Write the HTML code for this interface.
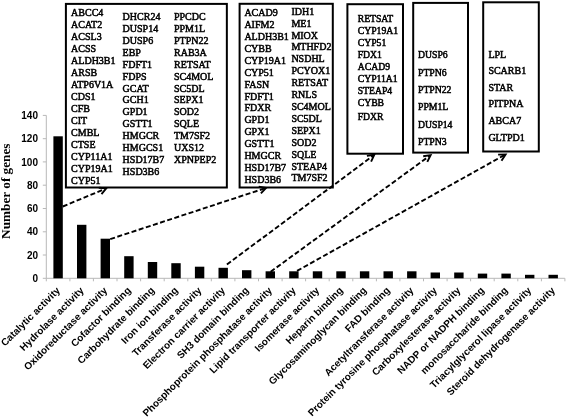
<!DOCTYPE html><html><head><meta charset="utf-8"><style>html,body{margin:0;padding:0;background:#fff;width:567px;height:417px;overflow:hidden}svg{display:block;filter:grayscale(1)}</style></head><body>
<svg width="567" height="417" viewBox="0 0 567 417">
<g stroke="#b8b8b8" stroke-width="1" fill="none">
<path d="M46.3 115.4V278.3H564.9"/>
<path d="M42.8 278.3H46.3"/>
<path d="M42.8 255.0H46.3"/>
<path d="M42.8 231.8H46.3"/>
<path d="M42.8 208.5H46.3"/>
<path d="M42.8 185.2H46.3"/>
<path d="M42.8 161.9H46.3"/>
<path d="M42.8 138.7H46.3"/>
<path d="M42.8 115.4H46.3"/>
<path d="M46.3 278.3V281.3"/>
<path d="M69.9 278.3V281.3"/>
<path d="M93.4 278.3V281.3"/>
<path d="M117.0 278.3V281.3"/>
<path d="M140.6 278.3V281.3"/>
<path d="M164.2 278.3V281.3"/>
<path d="M187.8 278.3V281.3"/>
<path d="M211.3 278.3V281.3"/>
<path d="M234.9 278.3V281.3"/>
<path d="M258.5 278.3V281.3"/>
<path d="M282.1 278.3V281.3"/>
<path d="M305.6 278.3V281.3"/>
<path d="M329.2 278.3V281.3"/>
<path d="M352.8 278.3V281.3"/>
<path d="M376.4 278.3V281.3"/>
<path d="M399.9 278.3V281.3"/>
<path d="M423.5 278.3V281.3"/>
<path d="M447.1 278.3V281.3"/>
<path d="M470.6 278.3V281.3"/>
<path d="M494.2 278.3V281.3"/>
<path d="M517.8 278.3V281.3"/>
<path d="M541.4 278.3V281.3"/>
<path d="M564.9 278.3V281.3"/>
</g>
<g font-family="Liberation Sans, sans-serif" font-weight="bold" font-size="10" fill="#000" text-anchor="end">
<text x="38.0" y="281.9">0</text>
<text x="38.0" y="258.6">20</text>
<text x="38.0" y="235.4">40</text>
<text x="38.0" y="212.1">60</text>
<text x="38.0" y="188.8">80</text>
<text x="38.0" y="165.5">100</text>
<text x="38.0" y="142.3">120</text>
<text x="38.0" y="119.0">140</text>
</g>
<g fill="#000">
<rect x="53.4" y="136.3" width="9.4" height="142.0"/>
<rect x="77.0" y="224.8" width="9.4" height="53.5"/>
<rect x="100.6" y="238.7" width="9.4" height="39.6"/>
<rect x="124.2" y="256.2" width="9.4" height="22.1"/>
<rect x="147.8" y="262.0" width="9.4" height="16.3"/>
<rect x="171.3" y="263.2" width="9.4" height="15.1"/>
<rect x="194.9" y="266.7" width="9.4" height="11.6"/>
<rect x="218.5" y="267.8" width="9.4" height="10.5"/>
<rect x="242.0" y="270.2" width="9.4" height="8.1"/>
<rect x="265.6" y="271.3" width="9.4" height="7.0"/>
<rect x="289.2" y="271.3" width="9.4" height="7.0"/>
<rect x="312.8" y="271.3" width="9.4" height="7.0"/>
<rect x="336.3" y="271.3" width="9.4" height="7.0"/>
<rect x="359.9" y="271.3" width="9.4" height="7.0"/>
<rect x="383.5" y="271.3" width="9.4" height="7.0"/>
<rect x="407.1" y="271.3" width="9.4" height="7.0"/>
<rect x="430.6" y="272.5" width="9.4" height="5.8"/>
<rect x="454.2" y="272.5" width="9.4" height="5.8"/>
<rect x="477.8" y="273.6" width="9.4" height="4.7"/>
<rect x="501.4" y="273.6" width="9.4" height="4.7"/>
<rect x="525.0" y="274.8" width="9.4" height="3.5"/>
<rect x="548.5" y="274.8" width="9.4" height="3.5"/>
</g>
<g font-family="Liberation Sans, sans-serif" font-weight="bold" font-size="10" fill="#000" text-anchor="end">
<text transform="translate(60.8 291.0) rotate(-45)">Catalytic activity</text>
<text transform="translate(84.4 291.0) rotate(-45)">Hydrolase activity</text>
<text transform="translate(107.9 291.0) rotate(-45)">Oxidoreductase activity</text>
<text transform="translate(131.5 291.0) rotate(-45)">Cofactor binding</text>
<text transform="translate(155.0 291.0) rotate(-45)">Carbohydrate binding</text>
<text transform="translate(178.6 291.0) rotate(-45)">Iron ion binding</text>
<text transform="translate(202.2 291.0) rotate(-45)">Transferase activity</text>
<text transform="translate(225.7 291.0) rotate(-45)">Electron carrier activity</text>
<text transform="translate(249.3 291.0) rotate(-45)">SH3 domain binding</text>
<text transform="translate(272.8 291.0) rotate(-45)">Phosphoprotein phosphatase activity</text>
<text transform="translate(296.4 291.0) rotate(-45)">Lipid transporter activity</text>
<text transform="translate(320.0 291.0) rotate(-45)">Isomerase activity</text>
<text transform="translate(343.5 291.0) rotate(-45)">Heparin binding</text>
<text transform="translate(367.1 291.0) rotate(-45)">Glycosaminoglycan binding</text>
<text transform="translate(390.6 291.0) rotate(-45)">FAD binding</text>
<text transform="translate(414.2 291.0) rotate(-45)">Acetyltransferase activity</text>
<text transform="translate(437.8 291.0) rotate(-45)">Protein tyrosine phosphatase activity</text>
<text transform="translate(461.3 291.0) rotate(-45)">Carboxylesterase activity</text>
<text transform="translate(484.9 291.0) rotate(-45)">NADP or NADPH binding</text>
<text transform="translate(508.4 291.0) rotate(-45)">monosaccharide binding</text>
<text transform="translate(532.0 291.0) rotate(-45)">Triacylglycerol lipase activity</text>
<text transform="translate(555.6 291.0) rotate(-45)">Steroid dehydrogenase activity</text>
</g>
<text transform="translate(9.7 191.2) rotate(-90)" text-anchor="middle" font-family="Liberation Serif, serif" font-weight="bold" font-size="13.25">Number of genes</text>
<g fill="none" stroke="#000" stroke-width="2">
<rect x="65.9" y="3.9" width="160.95" height="183.60"/>
<rect x="239.6" y="3.8" width="93.20" height="183.70"/>
<rect x="347.4" y="4.2" width="55.60" height="149.50"/>
<rect x="413.2" y="2.9" width="54.80" height="149.70"/>
<rect x="483.2" y="2.3" width="55.60" height="149.20"/>
</g>
<g font-family="Liberation Serif, serif" font-size="10" fill="#000" stroke="#000" stroke-width="0.5"><text x="71.1" y="15.8">ABCC4</text><text x="71.1" y="27.8">ACAT2</text><text x="71.1" y="39.8">ACSL3</text><text x="71.1" y="51.8">ACSS</text><text x="71.1" y="63.8">ALDH3B1</text><text x="71.1" y="75.8">ARSB</text><text x="71.1" y="87.8">ATP6V1A</text><text x="71.1" y="99.8">CDS1</text><text x="71.1" y="111.8">CFB</text><text x="71.1" y="123.8">CIT</text><text x="71.1" y="135.8">CMBL</text><text x="71.1" y="147.8">CTSE</text><text x="71.1" y="159.8">CYP11A1</text><text x="71.1" y="171.8">CYP19A1</text><text x="71.1" y="183.8">CYP51</text></g>
<g font-family="Liberation Serif, serif" font-size="10" fill="#000" stroke="#000" stroke-width="0.5"><text x="122.6" y="20.2">DHCR24</text><text x="122.6" y="32.1">DUSP14</text><text x="122.6" y="44.0">DUSP6</text><text x="122.6" y="55.8">EBP</text><text x="122.6" y="67.7">FDFT1</text><text x="122.6" y="79.6">FDPS</text><text x="122.6" y="91.5">GCAT</text><text x="122.6" y="103.4">GCH1</text><text x="122.6" y="115.2">GPD1</text><text x="122.6" y="127.1">GSTT1</text><text x="122.6" y="139.0">HMGCR</text><text x="122.6" y="150.9">HMGCS1</text><text x="122.6" y="162.8">HSD17B7</text><text x="122.6" y="174.6">HSD3B6</text></g>
<g font-family="Liberation Serif, serif" font-size="10" fill="#000" stroke="#000" stroke-width="0.5"><text x="174.0" y="20.2">PPCDC</text><text x="174.0" y="32.1">PPM1L</text><text x="174.0" y="44.0">PTPN22</text><text x="174.0" y="55.8">RAB3A</text><text x="174.0" y="67.7">RETSAT</text><text x="174.0" y="79.6">SC4MOL</text><text x="174.0" y="91.5">SC5DL</text><text x="174.0" y="103.4">SEPX1</text><text x="174.0" y="115.2">SOD2</text><text x="174.0" y="127.1">SQLE</text><text x="174.0" y="139.0">TM7SF2</text><text x="174.0" y="150.9">UXS12</text><text x="174.0" y="162.8">XPNPEP2</text></g>
<g font-family="Liberation Serif, serif" font-size="10" fill="#000" stroke="#000" stroke-width="0.5"><text x="244.4" y="16.1">ACAD9</text><text x="244.4" y="28.0">AIFM2</text><text x="244.4" y="39.9">ALDH3B1</text><text x="244.4" y="51.8">CYBB</text><text x="244.4" y="63.7">CYP19A1</text><text x="244.4" y="75.7">CYP51</text><text x="244.4" y="87.6">FASN</text><text x="244.4" y="99.5">FDFT1</text><text x="244.4" y="111.4">FDXR</text><text x="244.4" y="123.3">GPD1</text><text x="244.4" y="135.2">GPX1</text><text x="244.4" y="147.1">GSTT1</text><text x="244.4" y="159.0">HMGCR</text><text x="244.4" y="170.9">HSD17B7</text><text x="244.4" y="182.8">HSD3B6</text></g>
<g font-family="Liberation Serif, serif" font-size="10" fill="#000" stroke="#000" stroke-width="0.5"><text x="291.4" y="14.7">IDH1</text><text x="291.4" y="26.6">ME1</text><text x="291.4" y="38.5">MIOX</text><text x="291.4" y="50.4">MTHFD2</text><text x="291.4" y="62.3">NSDHL</text><text x="291.4" y="74.2">PCYOX1</text><text x="291.4" y="86.2">RETSAT</text><text x="291.4" y="98.1">RNLS</text><text x="291.4" y="110.0">SC4MOL</text><text x="291.4" y="121.9">SC5DL</text><text x="291.4" y="133.8">SEPX1</text><text x="291.4" y="145.7">SOD2</text><text x="291.4" y="157.6">SQLE</text><text x="291.4" y="169.5">STEAP4</text><text x="291.4" y="181.4">TM7SF2</text></g>
<g font-family="Liberation Serif, serif" font-size="9.7" fill="#000" stroke="#000" stroke-width="0.5"><text x="357.7" y="22.4">RETSAT</text><text x="357.7" y="33.9">CYP19A1</text><text x="357.7" y="46.0">CYP51</text><text x="357.7" y="57.8">FDX1</text><text x="357.7" y="69.6">ACAD9</text><text x="357.7" y="81.6">CYP11A1</text><text x="357.7" y="93.8">STEAP4</text><text x="357.7" y="105.6">CYBB</text><text x="357.7" y="120.3">FDXR</text></g>
<g font-family="Liberation Serif, serif" font-size="9.7" fill="#000" stroke="#000" stroke-width="0.5"><text x="418.0" y="58.3">DUSP6</text><text x="418.0" y="75.8">PTPN6</text><text x="418.0" y="92.8">PTPN22</text><text x="418.0" y="110.2">PPM1L</text><text x="418.0" y="127.5">DUSP14</text><text x="418.0" y="144.9">PTPN3</text></g>
<g font-family="Liberation Serif, serif" font-size="10" fill="#000" stroke="#000" stroke-width="0.5"><text x="488.4" y="57.8">LPL</text><text x="488.4" y="74.2">SCARB1</text><text x="488.4" y="90.7">STAR</text><text x="488.4" y="107.4">PITPNA</text><text x="488.4" y="124.2">ABCA7</text><text x="488.4" y="140.9">GLTPD1</text></g>
<g stroke="#000" stroke-width="1.9" fill="none">
<path d="M62.8 206.5L104.9 189.0" stroke-dasharray="5 2.5"/>
<path d="M98.8 187.7L106.3 188.4L101.5 194.2" stroke-linejoin="miter"/>
<path d="M110.2 239.1L264.7 188.4" stroke-dasharray="5 2.5"/>
<path d="M258.7 186.6L266.1 187.9L260.9 193.3" stroke-linejoin="miter"/>
<path d="M226.9 264.5L373.1 155.7" stroke-dasharray="5 2.5"/>
<path d="M366.9 155.9L374.3 154.8L371.1 161.6" stroke-linejoin="miter"/>
<path d="M270.6 271.8L429.4 156.0" stroke-dasharray="5 2.5"/>
<path d="M423.2 156.2L430.6 155.1L427.3 161.8" stroke-linejoin="miter"/>
<path d="M297 270.9L504.3 155.1" stroke-dasharray="5 2.5"/>
<path d="M498.1 154.6L505.6 154.4L501.5 160.7" stroke-linejoin="miter"/>
</g>
</svg></body></html>
